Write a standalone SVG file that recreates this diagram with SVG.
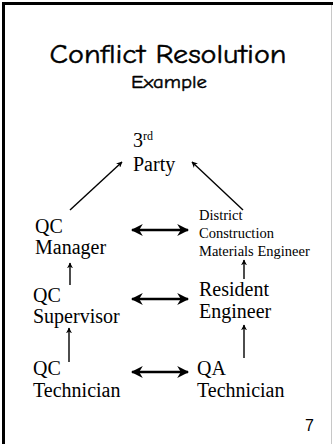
<svg xmlns="http://www.w3.org/2000/svg" width="333" height="444" viewBox="0 0 333 444">
  <style>
    .title { font-family: "Comic Sans MS", "Comic Neue", "DejaVu Sans", sans-serif; fill: #000; stroke: #000; stroke-width: 0.45; text-anchor: middle; }
    .lbl { font-family: "Liberation Serif", "Times New Roman", serif; fill: #000; font-size: 20px; }
    .sm { font-family: "Liberation Serif", "Times New Roman", serif; fill: #000; font-size: 14.5px; }
    .thin { stroke: #000; stroke-width: 1.4; fill: none; }
    .thick { stroke: #000; stroke-width: 2.6; fill: none; }
  </style>
  <defs>
    <marker id="tip" viewBox="0 0 10 10" refX="9" refY="5" markerWidth="6" markerHeight="6" markerUnits="userSpaceOnUse" orient="auto">
      <path d="M0,0 L10,5 L0,10 L3,5 Z" fill="#000"/>
    </marker>
    <marker id="bigtip" viewBox="0 0 10 10" refX="9" refY="5" markerWidth="12" markerHeight="12" markerUnits="userSpaceOnUse" orient="auto-start-reverse">
      <path d="M0,0 L10,5 L0,10 L3,5 Z" fill="#000"/>
    </marker>
  </defs>

  <!-- slide frame -->
  <rect x="0" y="0" width="333" height="444" fill="#fff"/>
  <line x1="3.5" y1="2" x2="3.5" y2="444" stroke="#000" stroke-width="3"/>
  <line x1="2" y1="3.5" x2="333" y2="3.5" stroke="#000" stroke-width="3"/>
  <line x1="331.5" y1="5" x2="331.5" y2="444" stroke="#c8c8c8" stroke-width="1"/>

  <!-- heading -->
  <g id="heading">
    <text class="title" x="168" y="63" font-size="27" textLength="237" lengthAdjust="spacingAndGlyphs">Conflict Resolution</text>
    <text class="title" x="169" y="88" font-size="19" stroke-width="0.3" textLength="76" lengthAdjust="spacingAndGlyphs">Example</text>
  </g>

  <g id="third-party">
    <text class="lbl" x="133" y="147">3<tspan font-size="12" dy="-7">rd</tspan></text>
    <text class="lbl" x="133" y="171">Party</text>
  </g>

  <g id="qc-manager">
    <text class="lbl" x="35" y="233">QC</text>
    <text class="lbl" x="35" y="254">Manager</text>
  </g>

  <g id="dcme">
    <text class="sm" x="199" y="220">District</text>
    <text class="sm" x="199" y="238">Construction</text>
    <text class="sm" x="199" y="256">Materials Engineer</text>
  </g>

  <g id="qc-supervisor">
    <text class="lbl" x="33" y="302">QC</text>
    <text class="lbl" x="33" y="323">Supervisor</text>
  </g>

  <g id="resident-engineer">
    <text class="lbl" x="199" y="296">Resident</text>
    <text class="lbl" x="199" y="318">Engineer</text>
  </g>

  <g id="qc-technician">
    <text class="lbl" x="33" y="375">QC</text>
    <text class="lbl" x="33" y="397">Technician</text>
  </g>

  <g id="qa-technician">
    <text class="lbl" x="197" y="375">QA</text>
    <text class="lbl" x="197" y="397">Technician</text>
  </g>

  <g id="connectors">
    <line class="thin" x1="70" y1="210" x2="122" y2="162" marker-end="url(#tip)"/>
    <line class="thin" x1="243" y1="210" x2="192" y2="162" marker-end="url(#tip)"/>
    <line class="thin" x1="70" y1="285" x2="70" y2="263" marker-end="url(#tip)"/>
    <line class="thin" x1="244" y1="279" x2="244" y2="260" marker-end="url(#tip)"/>
    <line class="thin" x1="69" y1="362" x2="69" y2="328" marker-end="url(#tip)"/>
    <line class="thin" x1="244" y1="358" x2="244" y2="325" marker-end="url(#tip)"/>
    <line class="thick" x1="132" y1="230" x2="188" y2="230" marker-start="url(#bigtip)" marker-end="url(#bigtip)"/>
    <line class="thick" x1="132" y1="299" x2="188" y2="299" marker-start="url(#bigtip)" marker-end="url(#bigtip)"/>
    <line class="thick" x1="132" y1="372" x2="188" y2="372" marker-start="url(#bigtip)" marker-end="url(#bigtip)"/>
  </g>

  <text x="314" y="431" font-family="Liberation Sans, Arial, sans-serif" font-size="16" text-anchor="end" fill="#000">7</text>
</svg>
